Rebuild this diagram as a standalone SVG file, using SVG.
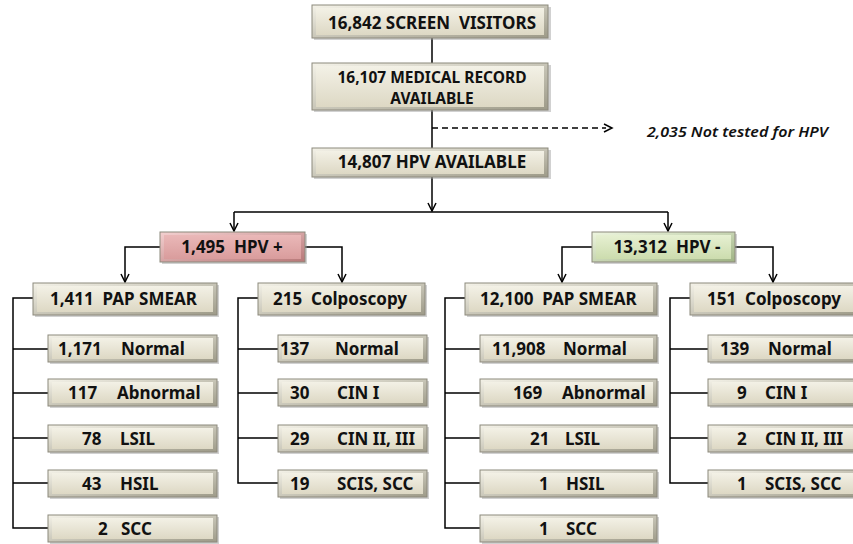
<svg xmlns="http://www.w3.org/2000/svg" width="853" height="544" viewBox="0 0 853 544">
<defs>
<linearGradient id="bevB" x1="0" y1="0" x2="1" y2="1"><stop offset="0" stop-color="#f4f2e8"/><stop offset="1" stop-color="#9d9a88"/></linearGradient>
<linearGradient id="faceB" x1="0" y1="0" x2="0" y2="1"><stop offset="0" stop-color="#f3f1e6"/><stop offset="1" stop-color="#ddd8c4"/></linearGradient>
<linearGradient id="bevP" x1="0" y1="0" x2="1" y2="1"><stop offset="0" stop-color="#f3d0d0"/><stop offset="1" stop-color="#b77878"/></linearGradient>
<linearGradient id="faceP" x1="0" y1="0" x2="0" y2="1"><stop offset="0" stop-color="#eab8b8"/><stop offset="1" stop-color="#d99c9c"/></linearGradient>
<linearGradient id="bevG" x1="0" y1="0" x2="1" y2="1"><stop offset="0" stop-color="#eef6e0"/><stop offset="1" stop-color="#9fb384"/></linearGradient>
<linearGradient id="faceG" x1="0" y1="0" x2="0" y2="1"><stop offset="0" stop-color="#e6f0d2"/><stop offset="1" stop-color="#ccdcae"/></linearGradient>
<marker id="arr" markerWidth="10" markerHeight="10" refX="9" refY="5" orient="auto" markerUnits="userSpaceOnUse"><path d="M1,1 L9,5 L1,9" fill="none" stroke="#000" stroke-width="1.5"/></marker>
</defs>
<style>
.o{stroke:#8c897c;stroke-width:1}
.b .o{fill:url(#bevB)} .b .f{fill:url(#faceB)}
.p .o{fill:url(#bevP)} .p .f{fill:url(#faceP)}
.g .o{fill:url(#bevG)} .g .f{fill:url(#faceG)}
.s{fill:#9a9a9a;opacity:0.45}
text{font-family:"Noto Sans","Liberation Sans",sans-serif;font-weight:bold;font-size:17px;fill:#111;white-space:pre}
.c{text-anchor:middle}
.w{fill:none;stroke:#000;stroke-width:1.5}
.note{font-style:italic;font-weight:600;font-size:14px}
.t2{font-size:15.5px}
</style>
<rect width="853" height="544" fill="#fff"/>

<g id="connectors">
<path class="w" d="M432,38 V63"/>
<path class="w" d="M432,110 V148"/>
<path class="w" d="M432,128 H606" stroke-dasharray="6,4"/>
<path class="w" d="M604,124 L612,128 L604,132"/>
<path class="w" d="M432,177 V211" marker-end="url(#arr)"/>
<path class="w" d="M234,212 H668"/>
<path class="w" d="M234,212 V231" marker-end="url(#arr)"/>
<path class="w" d="M668,212 V231" marker-end="url(#arr)"/>
<path class="w" d="M160,247 H125 V282" marker-end="url(#arr)"/>
<path class="w" d="M305,247 H342 V282" marker-end="url(#arr)"/>
<path class="w" d="M592,247 H562 V282" marker-end="url(#arr)"/>
<path class="w" d="M735,247 H773 V282" marker-end="url(#arr)"/>
<path class="w" d="M33,298 H13 V528 H48 M13,349 H48 M13,393 H48 M13,438 H48 M13,483 H48"/>
<path class="w" d="M258,298 H238 V483 H278 M238,349 H278 M238,393 H278 M238,438 H278"/>
<path class="w" d="M465,298 H445 V528 H480 M445,349 H480 M445,393 H480 M445,438 H480 M445,483 H480"/>
<path class="w" d="M690,298 H670 V483 H708 M670,349 H708 M670,393 H708 M670,438 H708"/>
</g>

<g id="n-screen" class="b"><rect class="s" x="314" y="7" width="237" height="33"/><rect class="o" x="312" y="5" width="236" height="33"/><rect class="f" x="316" y="8" width="228" height="27"/><text class="c" x="432" y="29">16,842 SCREEN  VISITORS</text></g>
<g id="n-medical" class="b"><rect class="s" x="314" y="65" width="237" height="47"/><rect class="o" x="312" y="63" width="236" height="47"/><rect class="f" x="316" y="66" width="228" height="41"/><text class="c t2" x="432" y="82.5">16,107 MEDICAL RECORD</text><text class="c t2" x="432" y="104">AVAILABLE</text></g>
<g id="n-hpv" class="b"><rect class="s" x="314" y="150" width="237" height="29"/><rect class="o" x="312" y="148" width="236" height="29"/><rect class="f" x="316" y="151" width="228" height="23"/><text class="c" x="432" y="168">14,807 HPV AVAILABLE</text></g>
<text id="n-nottested" class="note" x="647" y="137" textLength="181" lengthAdjust="spacingAndGlyphs">2,035 Not tested for HPV</text>

<g id="n-hpvpos" class="p"><rect class="s" x="162" y="234" width="145" height="30"/><rect class="o" x="160" y="232" width="145" height="30"/><rect class="f" x="164" y="235" width="137" height="24"/><text class="c" x="232" y="253">1,495  HPV +</text></g>
<g id="n-hpvneg" class="g"><rect class="s" x="594" y="234" width="143" height="30"/><rect class="o" x="592" y="232" width="143" height="30"/><rect class="f" x="596" y="235" width="135" height="24"/><text class="c" x="667" y="253">13,312  HPV -</text></g>

<g id="n-pap1" class="b"><rect class="s" x="35" y="285" width="184" height="32"/><rect class="o" x="33" y="283" width="184" height="32"/><rect class="f" x="37" y="286" width="176" height="26"/><text x="50" y="305">1,411  PAP SMEAR</text></g>
<g id="n-col1" class="b"><rect class="s" x="260" y="285" width="167" height="32"/><rect class="o" x="258" y="283" width="167" height="32"/><rect class="f" x="262" y="286" width="159" height="26"/><text x="273" y="305">215  Colposcopy</text></g>
<g id="n-pap2" class="b"><rect class="s" x="467" y="285" width="192" height="32"/><rect class="o" x="465" y="283" width="192" height="32"/><rect class="f" x="469" y="286" width="184" height="26"/><text x="480" y="305">12,100  PAP SMEAR</text></g>
<g id="n-col2" class="b"><rect class="s" x="692" y="285" width="170" height="32"/><rect class="o" x="690" y="283" width="170" height="32"/><rect class="f" x="694" y="286" width="162" height="26"/><text x="707" y="305">151  Colposcopy</text></g>

<g id="n-l-normal" class="b"><rect class="s" x="50" y="337" width="169" height="27"/><rect class="o" x="48" y="335" width="169" height="27"/><rect class="f" x="52" y="338" width="161" height="21"/><text x="58" y="355">1,171</text><text x="121" y="355">Normal</text></g>
<g id="n-l-abn" class="b"><rect class="s" x="50" y="381" width="169" height="27"/><rect class="o" x="48" y="379" width="169" height="27"/><rect class="f" x="52" y="382" width="161" height="21"/><text x="68" y="399">117</text><text x="117" y="399">Abnormal</text></g>
<g id="n-l-lsil" class="b"><rect class="s" x="50" y="427" width="169" height="27"/><rect class="o" x="48" y="425" width="169" height="27"/><rect class="f" x="52" y="428" width="161" height="21"/><text x="82" y="445">78</text><text x="120" y="445">LSIL</text></g>
<g id="n-l-hsil" class="b"><rect class="s" x="50" y="472" width="169" height="27"/><rect class="o" x="48" y="470" width="169" height="27"/><rect class="f" x="52" y="473" width="161" height="21"/><text x="82" y="490">43</text><text x="120" y="490">HSIL</text></g>
<g id="n-l-scc" class="b"><rect class="s" x="50" y="517" width="169" height="27"/><rect class="o" x="48" y="515" width="169" height="27"/><rect class="f" x="52" y="518" width="161" height="21"/><text x="98" y="535">2</text><text x="121" y="535">SCC</text></g>

<g id="n-lc-normal" class="b"><rect class="s" x="280" y="337" width="149" height="27"/><rect class="o" x="278" y="335" width="149" height="27"/><rect class="f" x="282" y="338" width="141" height="21"/><text x="280" y="355">137</text><text x="335" y="355">Normal</text></g>
<g id="n-lc-cin1" class="b"><rect class="s" x="280" y="381" width="149" height="27"/><rect class="o" x="278" y="379" width="149" height="27"/><rect class="f" x="282" y="382" width="141" height="21"/><text x="290" y="399">30</text><text x="337" y="399">CIN I</text></g>
<g id="n-lc-cin23" class="b"><rect class="s" x="280" y="427" width="149" height="27"/><rect class="o" x="278" y="425" width="149" height="27"/><rect class="f" x="282" y="428" width="141" height="21"/><text x="290" y="445">29</text><text x="337" y="445">CIN II, III</text></g>
<g id="n-lc-scc" class="b"><rect class="s" x="280" y="472" width="149" height="27"/><rect class="o" x="278" y="470" width="149" height="27"/><rect class="f" x="282" y="473" width="141" height="21"/><text x="290" y="490">19</text><text x="337" y="490">SCIS, SCC</text></g>

<g id="n-r-normal" class="b"><rect class="s" x="482" y="337" width="177" height="27"/><rect class="o" x="480" y="335" width="177" height="27"/><rect class="f" x="484" y="338" width="169" height="21"/><text x="492" y="355">11,908</text><text x="563" y="355">Normal</text></g>
<g id="n-r-abn" class="b"><rect class="s" x="482" y="381" width="177" height="27"/><rect class="o" x="480" y="379" width="177" height="27"/><rect class="f" x="484" y="382" width="169" height="21"/><text x="513" y="399">169</text><text x="562" y="399">Abnormal</text></g>
<g id="n-r-lsil" class="b"><rect class="s" x="482" y="427" width="177" height="27"/><rect class="o" x="480" y="425" width="177" height="27"/><rect class="f" x="484" y="428" width="169" height="21"/><text x="530" y="445">21</text><text x="565" y="445">LSIL</text></g>
<g id="n-r-hsil" class="b"><rect class="s" x="482" y="472" width="177" height="27"/><rect class="o" x="480" y="470" width="177" height="27"/><rect class="f" x="484" y="473" width="169" height="21"/><text x="539" y="490">1</text><text x="566" y="490">HSIL</text></g>
<g id="n-r-scc" class="b"><rect class="s" x="482" y="517" width="177" height="27"/><rect class="o" x="480" y="515" width="177" height="27"/><rect class="f" x="484" y="518" width="169" height="21"/><text x="539" y="535">1</text><text x="566" y="535">SCC</text></g>

<g id="n-rc-normal" class="b"><rect class="s" x="710" y="337" width="150" height="27"/><rect class="o" x="708" y="335" width="150" height="27"/><rect class="f" x="712" y="338" width="142" height="21"/><text x="720" y="355">139</text><text x="768" y="355">Normal</text></g>
<g id="n-rc-cin1" class="b"><rect class="s" x="710" y="381" width="150" height="27"/><rect class="o" x="708" y="379" width="150" height="27"/><rect class="f" x="712" y="382" width="142" height="21"/><text x="737" y="399">9</text><text x="765" y="399">CIN I</text></g>
<g id="n-rc-cin23" class="b"><rect class="s" x="710" y="427" width="150" height="27"/><rect class="o" x="708" y="425" width="150" height="27"/><rect class="f" x="712" y="428" width="142" height="21"/><text x="737" y="445">2</text><text x="765" y="445">CIN II, III</text></g>
<g id="n-rc-scc" class="b"><rect class="s" x="710" y="472" width="150" height="27"/><rect class="o" x="708" y="470" width="150" height="27"/><rect class="f" x="712" y="473" width="142" height="21"/><text x="737" y="490">1</text><text x="765" y="490">SCIS, SCC</text></g>
</svg>
